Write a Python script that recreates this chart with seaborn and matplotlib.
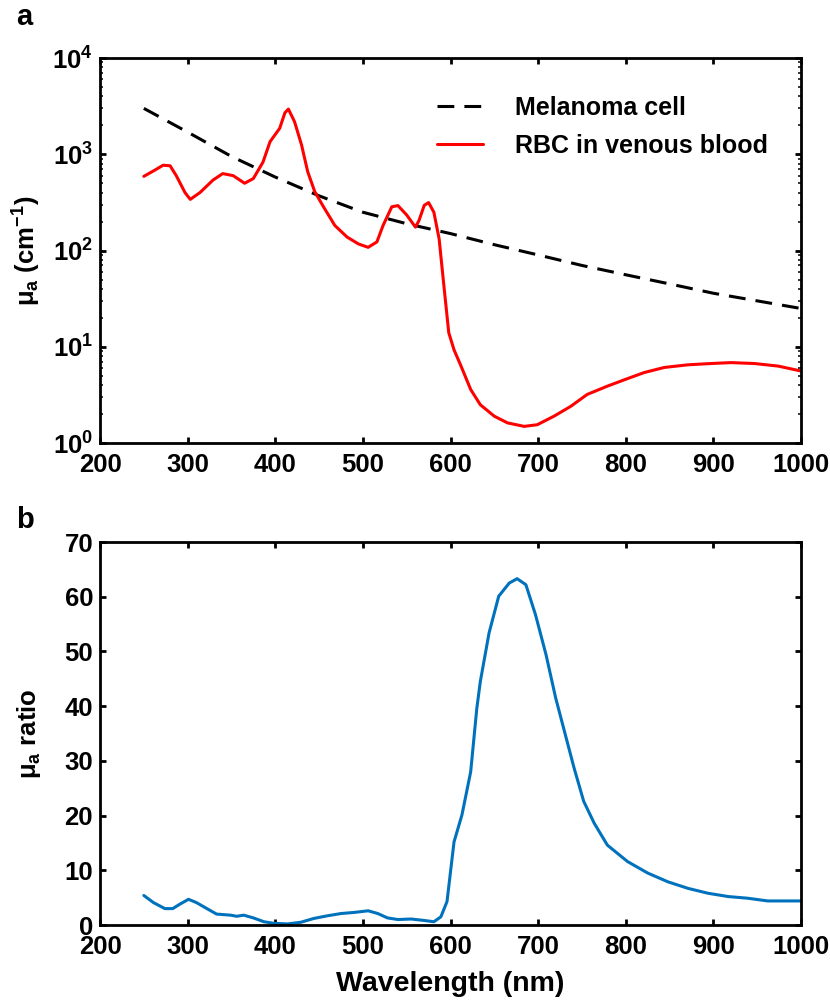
import numpy as np
import matplotlib
matplotlib.use('Agg')
import matplotlib.pyplot as plt
import seaborn as sns
from matplotlib.ticker import FuncFormatter, LogLocator, NullFormatter, MultipleLocator

# values
melanoma_wl = [250, 300, 350, 400, 450, 500, 550, 600, 650, 700, 750, 800, 850, 900, 950, 1000]
melanoma_mua = [3000, 1700, 950, 580, 370, 250, 190, 150, 115, 90, 70, 56, 45, 36, 30, 25]

rbc_wl = [250, 262, 272, 280, 287, 297, 303, 314, 329, 340, 352, 365, 375, 386, 394, 405,
          411, 415, 422, 430, 437, 445, 455, 468, 482, 495, 506, 516, 523, 533, 540, 550,
          560, 564, 570, 575, 581, 587, 592, 598, 604, 612, 623, 634, 650, 665, 684, 699,
          718, 737, 756, 779, 800, 821, 844, 871, 897, 920, 947, 974, 1000]
rbc_mua = [590, 680, 770, 760, 600, 400, 340, 400, 540, 630, 600, 500, 560, 830, 1350, 1860,
           2700, 2950, 2180, 1250, 660, 410, 285, 182, 138, 117, 108, 123, 182, 285, 293, 234,
           175, 205, 295, 315, 250, 132, 47, 14, 9.3, 6.3, 3.6, 2.5, 1.9, 1.62, 1.49, 1.55,
           1.9, 2.4, 3.2, 3.9, 4.6, 5.4, 6.1, 6.5, 6.7, 6.85, 6.7, 6.3, 5.6]

ratio_wl = [250, 261, 274, 283, 291, 301, 310, 322, 333, 349, 356, 364, 375, 387, 399, 414,
            429, 444, 460, 475, 490, 506, 517, 528, 540, 555, 569, 581, 589, 596, 604, 613,
            623, 630, 634, 644, 655, 667, 676, 686, 697, 709, 720, 730, 741, 752, 764, 779,
            802, 825, 848, 871, 894, 917, 939, 962, 1000]
ratio_val = [5.4, 4.1, 3.0, 3.0, 3.8, 4.7, 4.1, 3.0, 2.0, 1.8, 1.6, 1.8, 1.3, 0.6, 0.3, 0.2,
             0.5, 1.2, 1.7, 2.1, 2.3, 2.6, 2.1, 1.3, 1.0, 1.1, 0.85, 0.6, 1.5, 4.3, 15.2, 20.1,
             28.0, 39.6, 44.5, 53.4, 60.1, 62.5, 63.3, 62.2, 56.7, 49.4, 41.5, 35.4, 28.7, 22.6, 18.6, 14.6,
             11.6, 9.5, 7.9, 6.7, 5.8, 5.2, 4.9, 4.4, 4.4]

xticks = list(range(200, 1001, 100))

sns.set_style('ticks')
plt.rcParams['font.family'] = ['Liberation Sans', 'DejaVu Sans']
plt.rcParams['font.weight'] = 'bold'
plt.rcParams['axes.labelweight'] = 'bold'
plt.rcParams['text.color'] = 'black'
plt.rcParams['axes.labelcolor'] = 'black'
plt.rcParams['mathtext.fontset'] = 'custom'
plt.rcParams['mathtext.rm'] = 'Liberation Sans:bold'
plt.rcParams['mathtext.bf'] = 'Liberation Sans:bold'
plt.rcParams['mathtext.it'] = 'Liberation Sans:bold:italic'

fig = plt.figure(figsize=(8.3, 10.06), dpi=100)
ax1 = fig.add_axes([0.1205, 0.5596, 0.8446, 0.3827])
ax2 = fig.add_axes([0.1205, 0.0805, 0.8446, 0.3807])

# panel a
sns.lineplot(x=melanoma_wl, y=melanoma_mua, ax=ax1, color='black', linewidth=2.2,
             label='Melanoma cell')
sns.lineplot(x=rbc_wl, y=rbc_mua, ax=ax1, color='#ff0000', linewidth=2.2,
             label='RBC in venous blood')
ax1.lines[0].set_dashes((5.5, 3.3))
ax1.set_yscale('log')
ax1.set_ylim(1, 1e4)
ax1.set_xlim(200, 1000)
ax1.set_xticks(xticks)
ax1.yaxis.set_major_locator(LogLocator(base=10, numticks=10))
ax1.yaxis.set_minor_locator(LogLocator(base=10, subs=range(2, 10), numticks=50))
ax1.yaxis.set_minor_formatter(NullFormatter())
ax1.yaxis.set_major_formatter(FuncFormatter(lambda v, p: r'$\mathrm{10^{%d}}$' % round(np.log10(v))))
ax1.set_xlabel('')
ax1.set_ylabel(r'μ$_\mathrm{a}$ (cm$^{-1}$)', fontsize=18.5)
ax1.yaxis.set_label_coords(-0.082, 0.5)
leg = ax1.legend(loc='upper left', bbox_to_anchor=(0.481, 0.902), frameon=False, fontsize=18,
                 handlelength=1.85, handletextpad=1.25, labelspacing=0.55, borderpad=0, borderaxespad=0)

# panel b
sns.lineplot(x=ratio_wl, y=ratio_val, ax=ax2, color='#0072bd', linewidth=2.2)
ax2.set_xlim(200, 1000)
ax2.set_ylim(0, 70)
ax2.set_xticks(xticks)
ax2.yaxis.set_major_locator(MultipleLocator(10))
ax2.set_ylabel(r'μ$_\mathrm{a}$ ratio', fontsize=18.5)
ax2.yaxis.set_label_coords(-0.082, 0.5)
ax2.set_xlabel('Wavelength (nm)', fontsize=20.5)
ax2.xaxis.set_label_coords(0.5, -0.12)

for ax in (ax1, ax2):
    for s in ax.spines.values():
        s.set_visible(True)
        s.set_linewidth(2)
        s.set_color('black')
    ax.tick_params(which='major', direction='in', top=True, right=True, length=4, width=2,
                   labelsize=18.5, color='black', labelcolor='black')
    ax.tick_params(axis='x', which='major', pad=7)
    ax.tick_params(axis='y', which='major', pad=5)
    ax.tick_params(which='minor', direction='in', top=False, right=True, length=2.2, width=1.3)
    ax.grid(False)

fig.text(0.02, 0.997, 'a', fontsize=21, fontweight='bold', va='top')
fig.text(0.02, 0.497, 'b', fontsize=21, fontweight='bold', va='top')

fig.savefig('out.png', dpi=100)
